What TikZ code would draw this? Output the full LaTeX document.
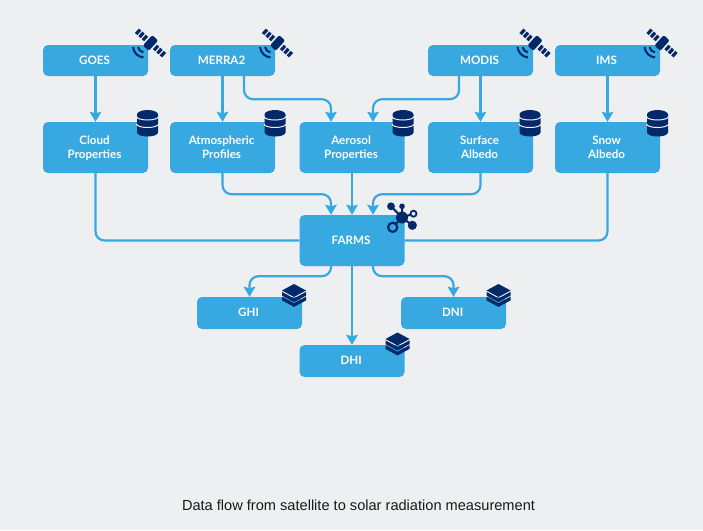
\documentclass[tikz,border=0pt]{standalone}
\usepackage{fontspec}
\setmainfont{Lato}
\newfontfamily\capfont{Liberation Sans}
\usetikzlibrary{arrows.meta,calc}
\definecolor{bgc}{HTML}{EEEFF1}
\definecolor{boxc}{HTML}{37A8E0}
\definecolor{navy}{HTML}{04296B}
\newcommand{\lnend}{\kern1.8pt\rule[-3.4pt]{0pt}{14pt}}
\tikzset{
  x=1pt,y=-1pt,
  box/.style={fill=boxc,rounded corners=5pt,text=white,font=\fontsize{11.6}{14}\selectfont\bfseries,align=center,inner sep=0pt,minimum width=105pt},
  srcbox/.style={box,minimum height=31pt},
  tallbox/.style={box,minimum height=51pt},
  outbox/.style={box,minimum height=32pt},
  link/.style={draw=boxc,line width=2.2pt,rounded corners=9pt},
  arrowlink/.style={link,-{Triangle[length=10pt,width=10pt,angle'=60,inset=1.5pt]}},
  sat/.pic={
    \begin{scope}[rotate=-42]
      \fill[navy,rounded corners=2pt] (-4,-7) rectangle (4,7);
      \foreach \s in {-1,1}{
        \foreach \k in {0,1,2}{
          \fill[navy] ({\s*(7.5+\k*4.6)-1.6},-3) rectangle ++(3.2,6);
        }
      }
    \end{scope}
    \draw[navy,line width=2pt] (-6,3) ++(172:6.5) arc[start angle=172,end angle=100,radius=6.5];
    \draw[navy,line width=2pt] (-6,3) ++(175:11.5) arc[start angle=175,end angle=95,radius=11.5];
  },
  dbicon/.pic={
    \fill[navy] (-10.5,-9) -- (-10.5,9) arc[start angle=180,end angle=0,x radius=10.5,y radius=4] -- (10.5,-9) arc[start angle=0,end angle=-180,x radius=10.5,y radius=4.5] -- cycle;
    \draw[bgc,line width=1pt] (-11,-7) arc[start angle=180,end angle=0,x radius=11,y radius=3.5];
    \draw[bgc,line width=1pt] (-11,0.5) arc[start angle=180,end angle=0,x radius=11,y radius=3.5];
  },
  layers/.pic={
    \fill[navy] (-12,-5.5) -- (0,-12) -- (12,-5.5) -- (0,1) -- cycle;
    \foreach \a in {2.4,7.2}{
      \fill[navy] (-12,\a-6.5) -- (0,\a) -- (12,\a-6.5) -- (12,\a-2.8) -- (0,\a+3.7) -- (-12,\a-2.8) -- cycle;
    }
  },
}
\begin{document}
\begin{tikzpicture}
\useasboundingbox[fill=bgc] (0,0) rectangle (703,530);
% sources
\node[srcbox] (goes) at (95.5,60.5) {GOES\lnend};
\node[srcbox] (merra) at (222.5,60.5) {MERRA2\lnend};
\node[srcbox] (modis) at (480.5,60.5) {MODIS\lnend};
\node[srcbox] (ims) at (607.5,60.5) {IMS\lnend};
% datasets
\node[tallbox] (cloud) at (95.5,147.5) {Cloud\lnend\\Properties\lnend};
\node[tallbox] (atm) at (222.5,147.5) {Atmospheric\lnend\\Profiles\lnend};
\node[tallbox] (aero) at (352,147.5) {Aerosol\lnend\\Properties\lnend};
\node[tallbox] (surf) at (480.5,147.5) {Surface\lnend\\Albedo\lnend};
\node[tallbox] (snow) at (607.5,147.5) {Snow\lnend\\Albedo\lnend};
% model
\node[tallbox] (farms) at (352,240.5) {FARMS\lnend};
% outputs
\node[outbox] (ghi) at (249.5,313) {GHI\lnend};
\node[outbox] (dni) at (453.5,313) {DNI\lnend};
\node[outbox] (dhi) at (352,361) {DHI\lnend};
% caption
\node[font=\fontsize{14.6}{16}\selectfont\capfont,text=black!90,inner sep=0pt] (cap) at (358.5,505) {Data flow from satellite to solar radiation measurement};
% connectors
\draw[arrowlink] (goes.south) -- (cloud.north);
\draw[arrowlink] (merra.south) -- (atm.north);
\draw[arrowlink] ([xshift=21.5pt]merra.south) -- ++(0,23) -| ([xshift=-21pt]aero.north);
\draw[arrowlink] ([xshift=-21.5pt]modis.south) -- ++(0,23) -| ([xshift=21pt]aero.north);
\draw[arrowlink] (modis.south) -- (surf.north);
\draw[arrowlink] (ims.south) -- (snow.north);
\draw[link] (cloud.south) |- (farms.west);
\draw[arrowlink] (atm.south) -- ++(0,21) -| ([xshift=-21pt]farms.north);
\draw[arrowlink] (aero.south) -- (farms.north);
\draw[arrowlink] (surf.south) -- ++(0,21) -| ([xshift=21pt]farms.north);
\draw[link] (snow.south) |- (farms.east);
\draw[arrowlink] ([xshift=-21pt]farms.south) -- ++(0,10) -| (ghi.north);
\draw[arrowlink] (farms.south) -- (dhi.north);
\draw[arrowlink] ([xshift=21pt]farms.south) -- ++(0,10) -| (dni.north);
% icons
\pic at (150.5,43) {sat};
\pic at (277.5,43) {sat};
\pic at (535,43) {sat};
\pic at (662,43) {sat};
\pic at (147.5,123.5) {dbicon};
\pic at (275,123.5) {dbicon};
\pic at (403,123.5) {dbicon};
\pic at (530,123.5) {dbicon};
\pic at (657.5,123.5) {dbicon};
\pic at (294,296) {layers};
\pic at (498.5,296) {layers};
\pic at (397.5,344.5) {layers};
% network icon
\begin{scope}[navy]
  \draw[line width=2pt] (391,206.3) -- (402,217.5) (402,206.3) -- (402,217.5) (411,214.5) -- (402,217.5) (412.3,225.3) -- (402,217.5) (395.6,224) -- (402,217.5);
  \fill (402,217.5) circle[radius=6];
  \fill (391,206.3) circle[radius=3.9];
  \fill (402,206.3) circle[radius=2.8];
  \fill (412.3,225.3) circle[radius=4.6];
  \draw[line width=1.8pt] (413.5,213.7) circle[radius=3];
  \draw[line width=2.2pt] (392.7,227.3) circle[radius=4.6];
\end{scope}
\end{tikzpicture}
\end{document}
